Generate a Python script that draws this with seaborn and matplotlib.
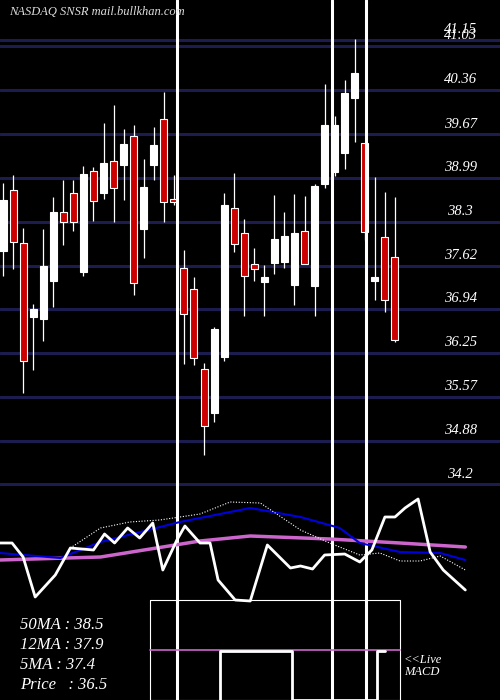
import matplotlib
matplotlib.use("Agg")
import matplotlib.pyplot as plt
import seaborn as sns
import pandas as pd

# daily candles (oldest -> newest)
opens = [37.85, 38.80, 37.97, 36.82, 36.79, 37.38, 38.46, 38.75, 37.52, 39.10,
         38.75, 39.25, 39.19, 39.64, 38.19, 39.19, 39.91, 38.65, 37.58, 37.25,
         36.00, 35.32, 36.19, 38.52, 38.13, 37.64, 37.36, 37.66, 37.68, 37.32,
         38.16, 37.30, 38.89, 39.08, 39.38, 40.24, 39.54, 37.38, 38.07, 37.75]
highs = [38.91, 39.04, 38.21, 37.02, 38.19, 38.69, 38.96, 38.96, 39.18, 39.16,
         39.85, 40.13, 39.75, 39.82, 39.29, 39.79, 40.33, 39.04, 37.86, 37.44,
         36.10, 36.66, 38.75, 39.07, 38.35, 37.89, 37.63, 38.72, 38.46, 38.74,
         38.71, 38.89, 40.46, 39.96, 40.52, 41.16, 39.54, 39.00, 38.77, 38.69]
lows = [37.46, 37.57, 35.63, 35.99, 36.44, 36.97, 37.94, 38.16, 37.46, 38.32,
        38.66, 38.30, 38.64, 37.16, 37.74, 38.96, 38.30, 38.57, 36.08, 36.07,
        34.66, 35.18, 36.13, 37.83, 36.83, 37.38, 36.83, 37.49, 37.58, 37.00,
        37.64, 36.83, 38.83, 39.02, 39.13, 39.55, 38.02, 37.08, 36.89, 36.43]
closes = [38.65, 37.99, 36.13, 36.94, 37.61, 38.46, 38.30, 38.30, 39.05, 38.63,
          39.22, 38.83, 39.52, 37.35, 38.85, 39.50, 38.61, 38.61, 36.86, 36.18,
          35.11, 36.63, 38.57, 37.96, 37.46, 37.57, 37.44, 38.04, 38.08, 38.13,
          37.64, 38.86, 39.82, 39.82, 40.32, 40.63, 38.15, 37.44, 37.08, 36.46]

levels = [41.15, 41.05, 40.36, 39.67, 38.99, 38.3, 37.62, 36.94, 36.25, 35.57, 34.88, 34.2]
level_labels = ["41.15", "41.03", "40.36", "39.67", "38.99", "38.3", "37.62",
                "36.94", "36.25", "35.57", "34.88", "34.2"]
markers = [17.3, 32.7, 36.1]

# indicator panel (x in candle index, y in panel units, larger = lower)
ma_long_x = [-0.3, 9.7, 19.6, 24.6, 32.5, 39.5, 46.0]
ma_long_y = [560, 557, 541, 536, 539, 543, 547]
ma_mid_x = [-0.3, 5.7, 9.7, 17.6, 24.6, 29.6, 33.5, 35.5, 39.5, 43.5, 46.0]
ma_mid_y = [553, 558, 542, 522, 508, 517, 528, 543, 552, 553, 560]
ma_short_x = [6.7, 9.7, 12.6, 15.6, 19.6, 22.6, 25.6, 29.6, 32.5, 35.5, 37.5, 39.5, 41.5, 43.5, 46.0]
ma_short_y = [548, 528, 522, 520, 514, 502, 503, 530, 543, 555, 553, 561, 561, 556, 570]
osc_x = [-0.3, 0.9, 2.0, 3.2, 5.2, 6.7, 9.0, 10.1, 11.1, 12.4, 13.6, 14.9, 15.9, 17.3,
         18.1, 19.6, 20.6, 21.4, 23.1, 24.6, 26.3, 28.6, 29.6, 30.8, 32.0, 34.0, 35.5,
         36.7, 38.0, 39.0, 40.0, 41.3, 42.5, 43.8, 46.0]
osc_y = [543, 543, 557, 597, 575, 548, 550, 534, 543, 528, 538, 523, 570, 540,
         526, 543, 543, 580, 600, 601, 545, 568, 566, 569, 555, 554, 562,
         550, 517, 517, 508, 499, 552, 570, 590]
macd_x = [21.6, 21.6, 28.8, 28.8, 37.2, 37.2, 38.0]
macd_y = [700, 651, 651, 700, 700, 651, 651]

sns.set_style("dark")
plt.rcParams["font.family"] = ["Liberation Serif", "DejaVu Serif"]
fig = plt.figure(figsize=(5, 7), dpi=100, facecolor="black")
ax = fig.add_axes([0, 0, 1, 1])
ax.set_facecolor("black")
ax.set_xlim(-0.3, 49.45)
ax.set_ylim(30.83, 41.77)
ax.axis("off")

for lv, lab in zip(levels, level_labels):
    ax.axhline(lv, color="#1c1c4e", lw=2.2, zorder=1)
    ax.text(45.5, lv + 0.06, lab, color="white", style="italic", fontsize=10.5,
            ha="center", va="bottom", zorder=2)

df = pd.DataFrame({"o": opens, "h": highs, "l": lows, "c": closes})
for i, r in df.iterrows():
    up = r.c >= r.o
    ax.vlines(i, r.l, r.h, color="white", lw=0.9, zorder=3)
    lo, hi = min(r.o, r.c), max(r.o, r.c)
    ax.bar(i, max(hi - lo, 0.05), bottom=lo, width=0.7,
           color="white" if up else "#cc0000", edgecolor="white", lw=0.8, zorder=4)

for m in markers:
    ax.axvline(m, color="white", lw=2.2, zorder=6)

ax2 = ax.twinx()
ax2.set_position([0, 0, 1, 1])
ax2.set_ylim(700, 0)
ax2.axis("off")
ax2.plot(ma_long_x, ma_long_y, color="#cc66cc", lw=2.5, zorder=3)
ax2.plot(ma_mid_x, ma_mid_y, color="#0000dd", lw=1.5, zorder=3)
ax2.plot(ma_short_x, ma_short_y, color="white", lw=0.8, ls=(0, (1, 1.5)), zorder=3)
ax2.plot(osc_x, osc_y, color="white", lw=2, zorder=4)
ax2.plot([14.6, 39.5, 39.5, 14.6, 14.6], [600, 600, 700, 700, 600], color="white", lw=0.8)
ax2.plot([14.6, 39.5], [650, 650], color="#cc66cc", lw=1.2)
ax2.plot(macd_x, macd_y, color="white", lw=2)

ax2.text(0.6, 12, "NASDAQ SNSR mail.bullkhan.com", color="#dddddd", style="italic",
         fontsize=9, va="center")
for k, s in enumerate(["50MA : 38.5", "12MA : 37.9", "5MA : 37.4", "Price   : 36.5"]):
    ax2.text(1.7, 625 + 20 * k, s, color="white", style="italic", fontsize=12, va="center")
ax2.text(39.9, 666, "<<Live\nMACD", color="white", style="italic", fontsize=9,
         va="center", linespacing=1.1)

fig.savefig("out.png", dpi=100, facecolor="black")
